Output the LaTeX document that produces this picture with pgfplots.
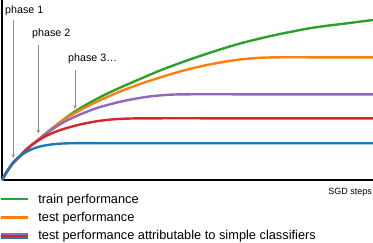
\documentclass[border=0pt]{standalone}
\usepackage{fontspec}
\setmainfont{Liberation Sans}
\usepackage{pgfplots}
\pgfplotsset{compat=1.18}
\usetikzlibrary{arrows.meta}
\definecolor{cgreen}{HTML}{2CA02C}
\definecolor{corange}{HTML}{FF7F0E}
\definecolor{cpurple}{HTML}{9467BD}
\definecolor{cred}{HTML}{D62728}
\definecolor{cblue}{HTML}{1F77B4}
\definecolor{cgray}{HTML}{8C8C8C}
\begin{document}
\begin{tikzpicture}
\begin{axis}[
  scale only axis, width=371bp, height=180bp,
  xmin=2, xmax=373, ymin=0, ymax=180,
  axis lines=left,
  axis line style={-, line width=1.3bp, black},
  xtick=\empty, ytick=\empty,
  clip=false,
  legend image code/.code={\draw[#1] (0bp,0bp) -- (27bp,0bp);},
  legend cell align=left,
  legend style={at={(axis cs:0,-13.8)}, anchor=north west, draw=none, fill=none,
    inner sep=0pt, outer sep=0pt, row sep=7.6bp, column sep=9bp,
    font=\fontsize{12.8bp}{14bp}\selectfont, nodes={inner sep=0pt}},
]
% green: train performance
\addplot[cgreen, line width=2.4bp, smooth, forget plot] coordinates {
(2,0)(7,8.5)(13,17)(20,24)(28,32)(38,40)(50,50)(63,60)(75,68.5)(90,77.5)(105,85.3)(120,92.3)(140,101)(160,109.5)(180,117)(200,124)(220,130.5)(240,136.5)(260,141.5)(280,146)(313,152.3)(347,156.7)(373,160)};
% orange: test performance
\addplot[corange, line width=2.4bp, smooth, forget plot] coordinates {
(2,0)(7,8.5)(13,17)(20,24)(28,32)(38,40)(50,49.8)(63,59.5)(75,67)(90,75)(105,82)(120,88.5)(140,96)(160,102.5)(180,108.5)(200,113.5)(220,117.5)(240,120.5)(260,122.2)(280,122.7)(310,122.7)(373,122.7)};
% purple
\addplot[cpurple, line width=2.4bp, smooth, forget plot] coordinates {
(2,0)(7,8.5)(13,17)(20,24)(28,32)(38,40)(45,45.5)(55,52.5)(65,58.5)(80,65.5)(97,72)(115,77)(130,80.3)(150,83.6)(170,85.3)(190,85.7)(240,85.7)(373,85.7)};
% red
\addplot[cred, line width=2.4bp, smooth, forget plot] coordinates {
(2,0)(7,8.5)(13,17)(20,24)(28,31.8)(35,37.3)(45,43.5)(55,48)(65,51.5)(80,55.5)(97,58.8)(115,60.8)(135,61.6)(160,61.7)(220,61.7)(373,61.7)};
% blue
\addplot[cblue, line width=2.4bp, smooth, forget plot] coordinates {
(2,0)(7,8.5)(13,17)(18,22)(23,26)(28,29)(35,32)(43,34.2)(53,35.7)(63,36.5)(75,36.8)(110,36.8)(373,36.8)};

\addlegendimage{line width=2.4bp, cgreen}
\addlegendentry{train performance}
\addlegendimage{line width=2.4bp, corange}
\addlegendentry{test performance}
\addlegendimage{legend image code/.code={
  \draw[line width=2bp, cpurple] (0bp,2.2bp) -- (27bp,2.2bp);
  \draw[line width=2bp, cred] (0bp,0bp) -- (27bp,0bp);
  \draw[line width=2bp, cblue] (0bp,-2.3bp) -- (27bp,-2.3bp);}}
\addlegendentry{test performance attributable to simple classifiers}

\draw[cgray, line width=0.8bp, -{Stealth[length=4bp,width=3.5bp]}] (axis cs:13.3,160) -- (axis cs:13.3,22);
\draw[cgray, line width=0.8bp, -{Stealth[length=4bp,width=3.5bp]}] (axis cs:38.3,135) -- (axis cs:38.3,46.5);
\draw[cgray, line width=0.8bp, -{Stealth[length=4bp,width=3.5bp]}] (axis cs:75,110) -- (axis cs:75,71);
\node[anchor=base west, inner sep=0pt, font=\fontsize{10.7bp}{12bp}\selectfont] at (axis cs:5,166.5) {phase 1};
\node[anchor=base west, inner sep=0pt, font=\fontsize{10.7bp}{12bp}\selectfont] at (axis cs:32,143.3) {phase 2};
\node[anchor=base west, inner sep=0pt, font=\fontsize{10.7bp}{12bp}\selectfont] at (axis cs:68,118.3) {phase 3…};
\node[anchor=base east, inner sep=0pt, font=\fontsize{9bp}{10bp}\selectfont] at (axis cs:372,-14.5) {SGD steps};
\coordinate (bbSW) at (axis cs:0,-63);
\coordinate (bbNE) at (axis cs:373,180);
\end{axis}
\pgfresetboundingbox
\useasboundingbox (bbSW) rectangle (bbNE);
\end{tikzpicture}
\end{document}
